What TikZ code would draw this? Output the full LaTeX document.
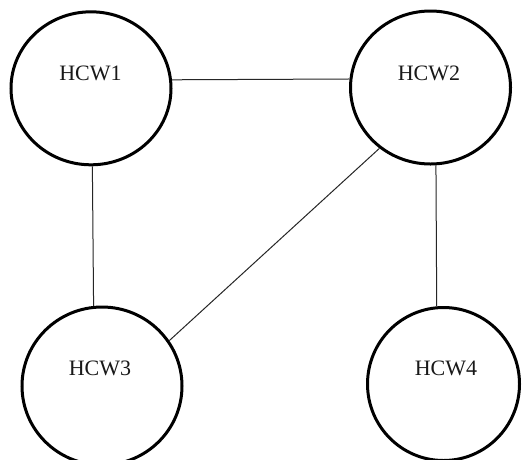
\documentclass[tikz,border=0pt]{standalone}
\usepackage{fontspec}
\setmainfont{Liberation Serif}
\usetikzlibrary{shapes.geometric}
\begin{document}
\begin{tikzpicture}[x=1pt,y=-1pt,
  hcw/.style={draw=black, line width=3pt, ellipse, inner sep=0pt, fill=white},
  lbl/.style={font=\fontsize{22}{24}\selectfont, inner sep=0pt, text=black!90},
  link/.style={draw=black!85, line width=1pt}]
\useasboundingbox (0,0) rectangle (524,459);
\clip (0,0) rectangle (524,459);
\fill[white] (0,0) rectangle (524,459);
\node[hcw, minimum width=160pt, minimum height=153pt] (h1) at (91,88.3) {};
\node[hcw, minimum width=160pt, minimum height=153pt] (h2) at (430.5,87.5) {};
\node[hcw, minimum width=160pt, minimum height=158pt] (h3) at (102,386) {};
\node[hcw, minimum width=152pt, minimum height=153pt] (h4) at (443.5,384) {};
\node[lbl] (t1) at (90.5,73.3) {HCW1};
\node[lbl] (t2) at (429,73.3) {HCW2};
\node[lbl] (t3) at (100,368) {HCW3};
\node[lbl] (t4) at (446,368) {HCW4};
\draw[link] (h1.6.2) -- (h2.174.6);
\draw[link] (h1.271.2) -- (h3.96.7);
\draw[link] (h2.274.7) -- (h4.95);
\draw[link] (h2.230.9) -- (h3.34.4);
\end{tikzpicture}
\end{document}
